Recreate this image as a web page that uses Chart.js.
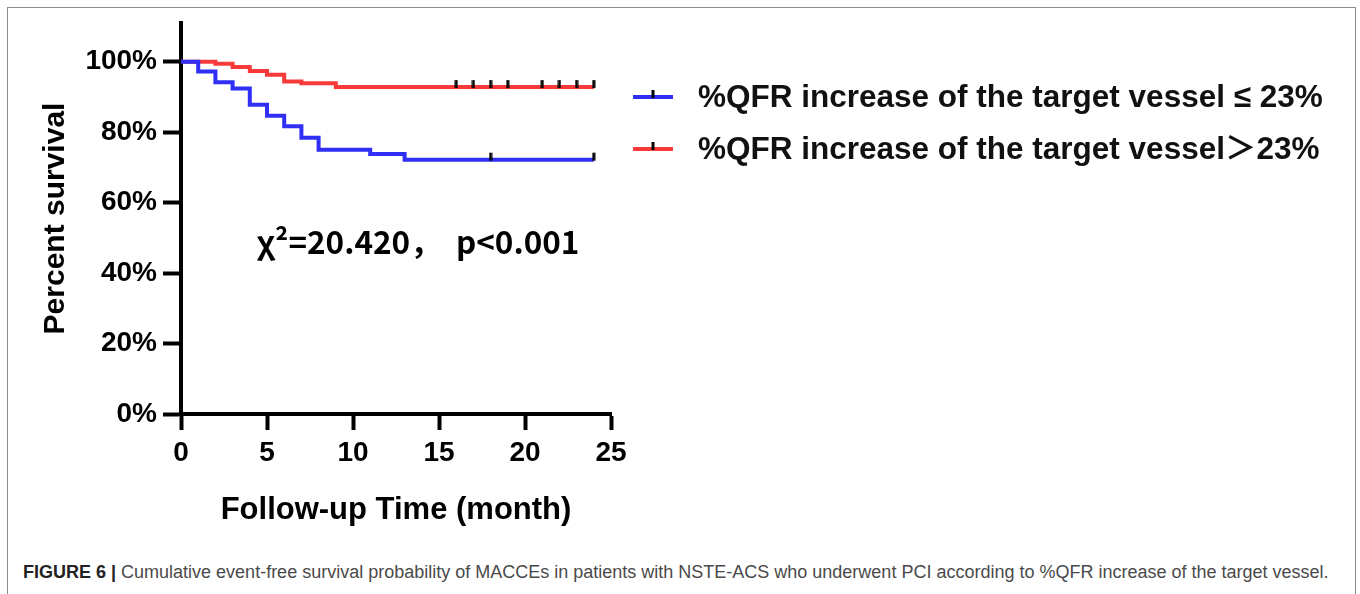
<!DOCTYPE html>
<html><head><meta charset="utf-8">
<script src="https://cdn.jsdelivr.net/npm/chart.js@4.4.1/dist/chart.umd.min.js"></script>
<style>
html,body{margin:0;padding:0;background:#fff;overflow:hidden;width:1360px;height:594px;}
#frame{position:absolute;left:7px;top:7px;width:1349px;height:620px;border:1px solid #8c8c8c;box-sizing:border-box;}
#wrap{position:absolute;left:0;top:0;width:1360px;height:540px;}
#cap{position:absolute;left:23px;top:562px;font-family:'Liberation Sans',Arial,sans-serif;font-size:18px;color:#4a4a4a;white-space:nowrap;}
#cap b{color:#222;}
</style></head>
<body>
<div id="frame"></div>
<div id="wrap"><canvas id="c" width="1360" height="540"></canvas></div>
<div id="cap"><b>FIGURE 6 |</b> Cumulative event-free survival probability of MACCEs in patients with NSTE-ACS who underwent PCI according to %QFR increase of the target vessel.</div>
<script>
// ---- data ----
const blueTimes = [0, 1, 2, 3, 4, 5, 6, 7, 8, 11, 13, 24];
const blueSurv  = [100, 97.2, 94.2, 92.4, 87.8, 84.7, 81.7, 78.4, 75.0, 73.8, 72.2, 72.2];
const redTimes  = [0, 2, 3, 4, 5, 6, 7, 9, 24];
const redSurv   = [100, 99.4, 98.5, 97.4, 96.3, 94.4, 93.9, 92.8, 92.8];
const blueCensor = [18, 24];
const redCensor  = [16, 17, 18, 19, 21, 22, 23, 24];
const xTickValues = [0, 5, 10, 15, 20, 25];
const yTickValues = [0, 20, 40, 60, 80, 100];
const seriesLabels = ['%QFR increase of the target vessel ≤ 23%', '%QFR increase of the target vessel＞23%'];
const statText = 'χ²=20.420，  p<0.001';
const xTitle = 'Follow-up Time (month)';
const yTitle = 'Percent survival';

const BLUE = '#2f2ff5', RED = '#f83a3a';
function toPts(t, s){ return t.map((v,i)=>({x:v, y:s[i]})); }
function survAt(t, s, x){ let v = s[0]; for (let i=0;i<t.length;i++){ if (t[i] <= x) v = s[i]; } return v; }
function makeMark(){
  const c = document.createElement('canvas'); c.width = 4; c.height = 16;
  const g = c.getContext('2d'); g.fillStyle = '#000'; g.fillRect(0.5, 1, 3, 8);
  return c;
}
const mark = makeMark();

const overlay = {
  id: 'overlay',
  afterDraw(chart){
    const ctx = chart.ctx, ca = chart.chartArea;
    ctx.save();
    const colors = [BLUE, RED];
    const ys = [97, 149];
    const lx = ca.right + 22;
    seriesLabels.forEach((lab, i) => {
      ctx.strokeStyle = colors[i]; ctx.lineWidth = 4; ctx.lineCap = 'butt';
      ctx.beginPath(); ctx.moveTo(lx, ys[i]); ctx.lineTo(lx + 40, ys[i]); ctx.stroke();
      ctx.drawImage(mark, lx + 18, ys[i] - 8);
      ctx.fillStyle = '#111';
      ctx.font = 'bold 31.5px "Liberation Sans", Arial, "Noto Sans CJK SC", sans-serif';
      ctx.textBaseline = 'middle'; ctx.textAlign = 'left';
      ctx.fillText(lab, lx + 65, ys[i] + 1);
    });
    ctx.font = 'bold 31.5px "Noto Sans CJK SC", sans-serif';
    ctx.textBaseline = 'alphabetic';
    ctx.fillStyle = '#000';
    ctx.fillText(statText, chart.scales.x.getPixelForValue(4.4), chart.scales.y.getPixelForValue(45.5));
    ctx.restore();
  }
};

new Chart(document.getElementById('c'), {
  type: 'line',
  data: {
    datasets: [
      { label: 'cb', type: 'scatter', data: blueCensor.map(x=>({x, y: survAt(blueTimes, blueSurv, x)})), pointStyle: mark, pointRadius: 3, showLine: false, order: 0 },
      { label: 'cr', type: 'scatter', data: redCensor.map(x=>({x, y: survAt(redTimes, redSurv, x)})), pointStyle: mark, pointRadius: 3, showLine: false, order: 0 },
      { label: seriesLabels[0], data: toPts(blueTimes, blueSurv), borderColor: BLUE, borderWidth: 4, stepped: 'before', pointRadius: 0, fill: false, order: 1 },
      { label: seriesLabels[1], data: toPts(redTimes, redSurv), borderColor: RED, borderWidth: 4, stepped: 'before', pointRadius: 0, fill: false, order: 2 }
    ]
  },
  options: {
    responsive: false, animation: false, devicePixelRatio: 1,
    layout: { padding: { left: 20, top: 23, right: 749, bottom: 0 } },
    plugins: { legend: { display: false }, tooltip: { enabled: false } },
    scales: {
      x: {
        type: 'linear', min: 0, max: 25,
        afterBuildTicks: s => { s.ticks = xTickValues.map(v=>({value:v})); },
        afterFit: s => { s.height = 126; },
        grid: { drawOnChartArea: false, tickLength: 16, tickWidth: 4, tickColor: '#000' },
        border: { display: true, width: 4, color: '#000' },
        ticks: { color: '#000', font: { family: '"Liberation Sans", Arial', size: 28, weight: 'bold' }, padding: 6, maxRotation: 0 },
        title: { display: true, text: xTitle, color: '#000', font: { family: '"Liberation Sans", Arial', size: 31, weight: 'bold' }, padding: { top: 0, bottom: 11 } }
      },
      y: {
        type: 'linear', min: 0, max: 111,
        afterBuildTicks: s => { s.ticks = yTickValues.map(v=>({value:v})); },
        afterFit: s => { s.width = 161; },
        grid: { drawOnChartArea: false, tickLength: 18, tickWidth: 4, tickColor: '#000' },
        border: { display: true, width: 4, color: '#000' },
        ticks: { color: '#000', font: { family: '"Liberation Sans", Arial', size: 28, weight: 'bold' }, padding: 6, callback: v => v + '%' },
        title: { display: true, text: yTitle, color: '#000', font: { family: '"Liberation Sans", Arial', size: 30, weight: 'bold' }, padding: { top: 18, bottom: 0 } }
      }
    }
  },
  plugins: [overlay]
});
</script>
</body></html>
